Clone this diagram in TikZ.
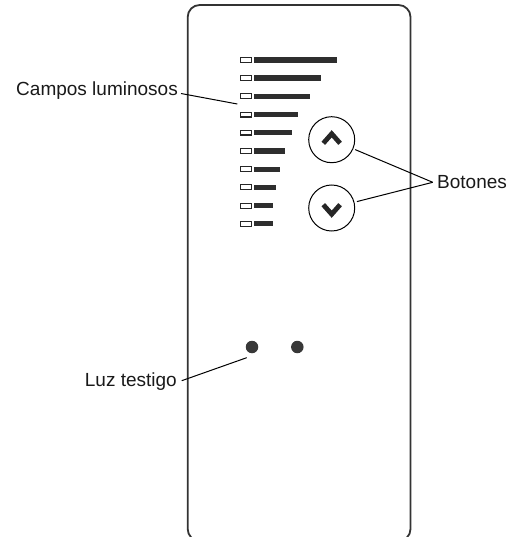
\documentclass[tikz,border=0pt]{standalone}
\usepackage{fontspec}
\setmainfont{Liberation Sans}
\tikzset{
  px/.style={x=1pt,y=-1pt},
  housing/.style={draw=black!80,line width=1.8pt,rounded corners=12pt},
  lamp/.style={draw=black!85,line width=1.2pt,fill=white,minimum width=10.5pt,minimum height=4.8pt,inner sep=0pt,rectangle},
  levelbar/.style={fill=black!82,draw=none},
  roundbtn/.style={circle,draw=black,line width=1pt,minimum size=46pt,inner sep=0pt,fill=white},
  chevron/.style={draw=black!85,line width=4.8pt,line cap=butt,line join=miter},
  ledot/.style={circle,fill=black!78,minimum size=12.5pt,inner sep=0pt},
  label/.style={inner sep=0pt,font=\fontsize{19}{22}\selectfont,text=black!90},
  leader/.style={draw=black,line width=1pt}
}
\begin{document}
\begin{tikzpicture}[px]
\useasboundingbox (0,0) rectangle (512,537);
\clip (0,0) rectangle (512,537);
% housing: its lower edge lies below the page edge
\draw[housing] (187.7,5) rectangle (410.5,541);
% lamps and level bars
\foreach \i/\yy/\xe in {a/60/337,b/78/321,c/96.3/310,d/114.7/298,e/132.7/291.7,f/151/284.7,g/169.3/280,h/187.3/275.7,j/205.7/273,k/223.7/272.7}{
  \node[lamp] (lamp\i) at (246,\yy) {};
  \fill[levelbar] (253.5,\yy-2.6) rectangle (\xe,\yy+2.6);
}
% buttons
\node[roundbtn] (up) at (331.7,139.7) {};
\node[roundbtn] (down) at (331.7,208) {};
\draw[chevron] (323.3,143.3) -- (331.7,133.8) -- (340.1,143.3);
\draw[chevron] (323.3,204.7) -- (331.7,214.2) -- (340.1,204.7);
% indicator lights
\node[ledot] (led1) at (252,347) {};
\node[ledot] (led2) at (297.3,347) {};
% labels
\node[label,anchor=base east] (campos) at (178,96) {Campos luminosos};
\node[label,anchor=base west] (botones) at (437,189) {Botones};
\node[label,anchor=base east] (luz) at (177,386) {Luz testigo};
% leaders
\coordinate (camposEnd) at (237.3,104);
\coordinate (luzEnd) at (246.7,357.7);
\coordinate (botonesJoin) at ([shift={(-4.3,-6.7)}]botones.base west);
\draw[leader] ([shift={(3,-2.5)}]campos.base east) -- (camposEnd);
\draw[leader,shorten >=2pt] (botonesJoin) -- (up);
\draw[leader,shorten >=2.5pt] (botonesJoin) -- (down);
\draw[leader] ([shift={(4.7,-5.3)}]luz.base east) -- (luzEnd);
\end{tikzpicture}
\end{document}
